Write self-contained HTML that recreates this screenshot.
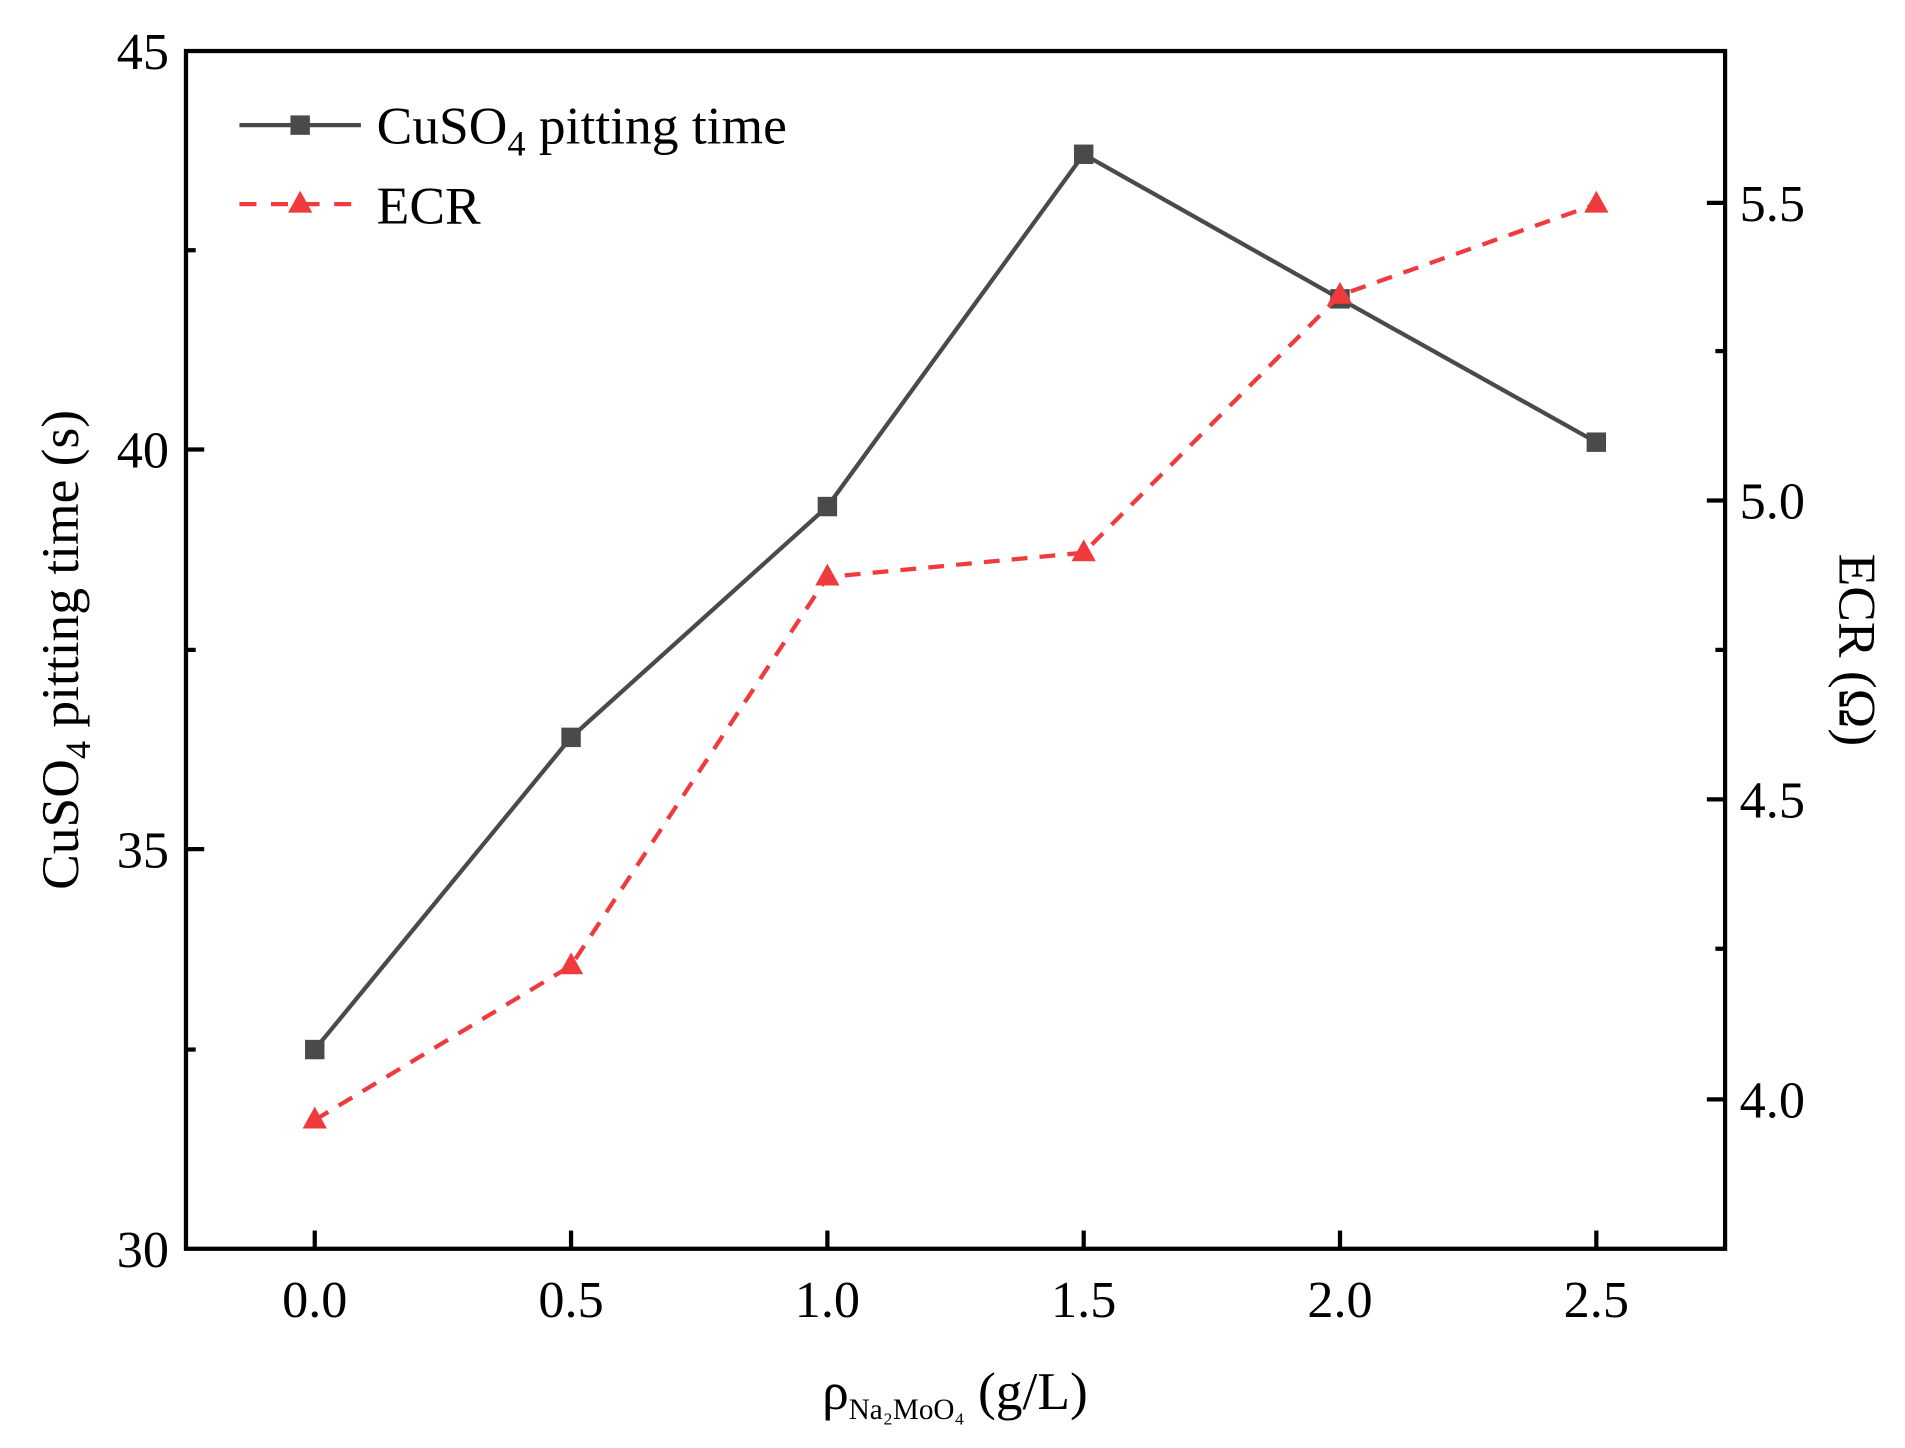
<!DOCTYPE html>
<html><head><meta charset="utf-8"><style>
html,body{margin:0;padding:0;background:#fff;}
svg{display:block;font-family:"Liberation Serif",serif;}
</style></head><body>
<svg width="1905" height="1448" viewBox="0 0 1568 1192" xmlns="http://www.w3.org/2000/svg">
<rect width="1568" height="1192" fill="#fff"/>
<polyline points="259,864 470,607 681,417 892,127 1103,246 1314,364" fill="none" stroke="#4a4a4a" stroke-width="3.5"/>
<g fill="#4a4a4a">
<rect x="251" y="856" width="16" height="16"/><rect x="462" y="599" width="16" height="16"/><rect x="673" y="409" width="16" height="16"/><rect x="884" y="119" width="16" height="16"/><rect x="1095" y="238" width="16" height="16"/><rect x="1306" y="356" width="16" height="16"/>
</g>
<polyline points="259,922 470,795 681,475 892,455 1103,243 1314,168" fill="none" stroke="#ef3b3d" stroke-width="3.5" stroke-dasharray="13,10"/>
<g fill="#ef3b3d">
<polygon points="259,911 269,929 249,929"/><polygon points="470,784 480,802 460,802"/><polygon points="681,464 691,482 671,482"/><polygon points="892,444 902,462 882,462"/><polygon points="1103,232 1113,250 1093,250"/><polygon points="1314,157 1324,175 1304,175"/>
</g>
<rect x="153" y="42" width="1267" height="986" fill="none" stroke="#000" stroke-width="3.5"/>
<g stroke="#000" stroke-width="3.5">
<line x1="153" y1="370" x2="168" y2="370"/><line x1="153" y1="699" x2="168" y2="699"/>
<line x1="153" y1="206" x2="161" y2="206"/><line x1="153" y1="535" x2="161" y2="535"/><line x1="153" y1="864" x2="161" y2="864"/>
<line x1="1420" y1="167" x2="1405" y2="167"/><line x1="1420" y1="412" x2="1405" y2="412"/><line x1="1420" y1="658" x2="1405" y2="658"/><line x1="1420" y1="905" x2="1405" y2="905"/>
<line x1="1420" y1="289" x2="1412" y2="289"/><line x1="1420" y1="535" x2="1412" y2="535"/><line x1="1420" y1="781" x2="1412" y2="781"/>
<line x1="259" y1="1028" x2="259" y2="1013"/><line x1="470" y1="1028" x2="470" y2="1013"/><line x1="681" y1="1028" x2="681" y2="1013"/><line x1="892" y1="1028" x2="892" y2="1013"/><line x1="1103" y1="1028" x2="1103" y2="1013"/><line x1="1314" y1="1028" x2="1314" y2="1013"/>
</g>
<g font-size="43" fill="#000">
<g text-anchor="end"><text x="139" y="57">45</text><text x="139" y="385">40</text><text x="139" y="714">35</text><text x="139" y="1043">30</text></g>
<g text-anchor="start"><text x="1432" y="182">5.5</text><text x="1432" y="427">5.0</text><text x="1432" y="673">4.5</text><text x="1432" y="920">4.0</text></g>
<g text-anchor="middle"><text x="259" y="1084">0.0</text><text x="470" y="1084">0.5</text><text x="681" y="1084">1.0</text><text x="892" y="1084">1.5</text><text x="1103" y="1084">2.0</text><text x="1314" y="1084">2.5</text></g>
</g>
<text transform="translate(64,535) rotate(-90)" text-anchor="middle" font-size="44">CuSO<tspan font-size="30" dy="10">4</tspan><tspan dy="-10"> pitting time (s)</tspan></text>
<text transform="translate(1514,535) rotate(90)" text-anchor="middle" font-size="44">ECR (Ω)</text>
<text x="786" y="1160" text-anchor="middle" font-size="44">ρ<tspan font-size="24" dy="8">Na₂MoO₄</tspan><tspan dy="-8"> (g/L)</tspan></text>
<line x1="197" y1="103" x2="297" y2="103" stroke="#4a4a4a" stroke-width="3.5"/>
<rect x="239" y="95" width="16" height="16" fill="#4a4a4a"/>
<text x="310" y="118" font-size="44">CuSO<tspan font-size="30" dy="10">4</tspan><tspan dy="-10"> pitting time</tspan></text>
<line x1="197" y1="168" x2="297" y2="168" stroke="#ef3b3d" stroke-width="3.5" stroke-dasharray="14,12"/>
<polygon points="247,157 257,175 237,175" fill="#ef3b3d"/>
<text x="310" y="184" font-size="44">ECR</text>
</svg>
</body></html>
